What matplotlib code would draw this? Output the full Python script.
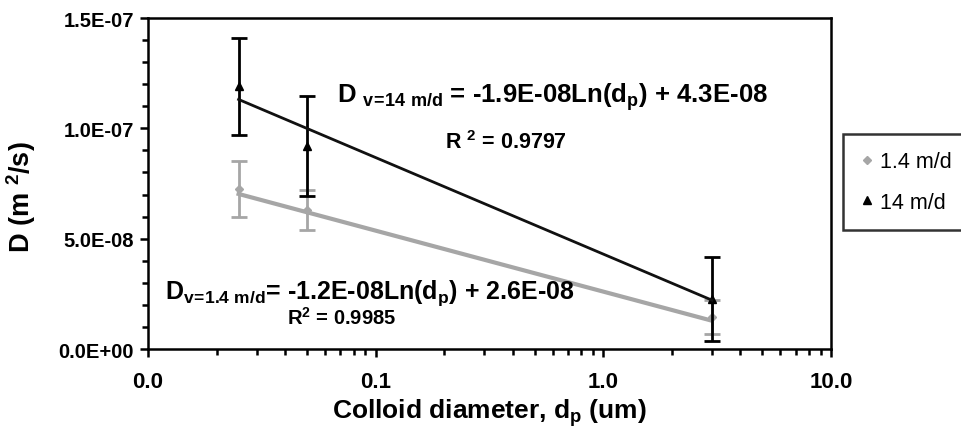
import numpy as np
import matplotlib
matplotlib.use("Agg")
import matplotlib.pyplot as plt
from matplotlib.ticker import MultipleLocator, FuncFormatter, LogLocator, NullFormatter
from matplotlib.lines import Line2D

plt.rcParams['font.family'] = ['Liberation Sans', 'DejaVu Sans']
plt.rcParams['mathtext.fontset'] = 'custom'
plt.rcParams['mathtext.rm'] = 'Liberation Sans:bold'
plt.rcParams['mathtext.it'] = 'Liberation Sans:bold'
plt.rcParams['mathtext.bf'] = 'Liberation Sans:bold'
plt.rcParams['mathtext.default'] = 'rm'

# colloid diameter (um)
diameter = [0.025, 0.05, 3.0]

# dispersion coefficient D (m2/s), v = 1.4 m/d
d_low = [7.25e-08, 6.3e-08, 1.45e-08]
err_low = [1.25e-08, 0.9e-08, 0.75e-08]

# dispersion coefficient D (m2/s), v = 14 m/d
d_high = [1.19e-07, 9.2e-08, 2.25e-08]
err_high = [2.2e-08, 2.27e-08, 1.9e-08]

# log trend lines D = a*ln(dp) + b
fit_low = (-1.2e-08, 2.6e-08)
fit_high = (-1.9e-08, 4.3e-08)

labels = ["1.4 m/d", "14 m/d"]

grey = "#a6a6a6"

fig = plt.figure(figsize=(9.62, 4.31), dpi=100)
ax = fig.add_axes([148/962, 1-350/431, (831-148)/962, (350-19)/431])

xs = np.geomspace(min(diameter), max(diameter), 50)

# 1.4 m/d
ax.errorbar(diameter, d_low, yerr=err_low, fmt='D', color=grey, ms=4,
            ecolor=grey, elinewidth=2, capsize=6, capthick=2, zorder=2)
ax.plot(xs, fit_low[0]*np.log(xs) + fit_low[1], color=grey, lw=3, zorder=3)

# 14 m/d
ax.errorbar(diameter, d_high, yerr=err_high, fmt='^', color='black', ms=6,
            ecolor='black', elinewidth=2, capsize=6, capthick=2, zorder=4)
ax.plot(xs, fit_high[0]*np.log(xs) + fit_high[1], color='#111111', lw=2, zorder=5)

ax.set_xscale('log')
ax.set_xlim(0.01, 10)
ax.set_ylim(0, 1.5e-07)

ax.yaxis.set_major_locator(MultipleLocator(5e-08))
ax.yaxis.set_minor_locator(MultipleLocator(1e-08))
ax.yaxis.set_major_formatter(FuncFormatter(lambda v, p: f"{v:.1E}"))
ax.xaxis.set_major_locator(LogLocator(base=10))
ax.xaxis.set_minor_locator(LogLocator(base=10, subs=np.arange(2, 10)))
ax.xaxis.set_minor_formatter(NullFormatter())
ax.xaxis.set_major_formatter(FuncFormatter(lambda v, p: f"{v:.1f}"))

ax.tick_params(which='both', direction='out', width=1.8, top=False, right=False)
ax.tick_params(which='major', length=6)
ax.tick_params(which='minor', length=4)
ax.tick_params(axis='y', labelsize=14.5, pad=4)
ax.tick_params(axis='x', labelsize=16, pad=10)
for lab in ax.get_xticklabels() + ax.get_yticklabels():
    lab.set_fontweight('bold')
for s in ax.spines.values():
    s.set_linewidth(1.8)

ax.set_xlabel("Colloid diameter, d$_{p}$ (um)", fontsize=19, fontweight='bold', labelpad=3)
ax.set_ylabel("D (m $^{2}$/s)", fontsize=19.5, fontweight='bold')
ax.yaxis.set_label_coords((38-148)/683, (350-197)/331)

ax.text(337, 431-97, "D $_{v\\!=\\!14\\ m/d}$ = -1.9E-08Ln(d$_{p}$) + 4.3E-08",
        transform=None, fontsize=18.5, fontweight='bold', va='center', ha='left')
ax.text(445, 431-143, "R $^{2}$ = 0.9797", transform=None, fontsize=15.5,
        fontweight='bold', va='center', ha='left')
ax.text(165, 431-293, "D$_{v\\!=\\!1.4\\ m/d}$= -1.2E-08Ln(d$_{p}$) + 2.6E-08",
        transform=None, fontsize=18, fontweight='bold', va='center', ha='left')
ax.text(287, 431-318, "R$^{2}$ = 0.9985", transform=None, fontsize=14.5,
        fontweight='bold', va='center', ha='left')

handles = [Line2D([], [], ls='none', marker='D', ms=4, color=grey),
           Line2D([], [], ls='none', marker='^', ms=6, color='black')]
leg = fig.legend(handles, labels, loc='upper left',
                 bbox_to_anchor=(843/962, 1-135/431), borderaxespad=0,
                 fontsize=15.5, frameon=True, fancybox=False, handlelength=0.6,
                 handletextpad=0.3, labelspacing=0.9, borderpad=0.8)
leg.get_frame().set_edgecolor('black')
leg.get_frame().set_linewidth(1.8)

fig.savefig("out.png", dpi=100)
